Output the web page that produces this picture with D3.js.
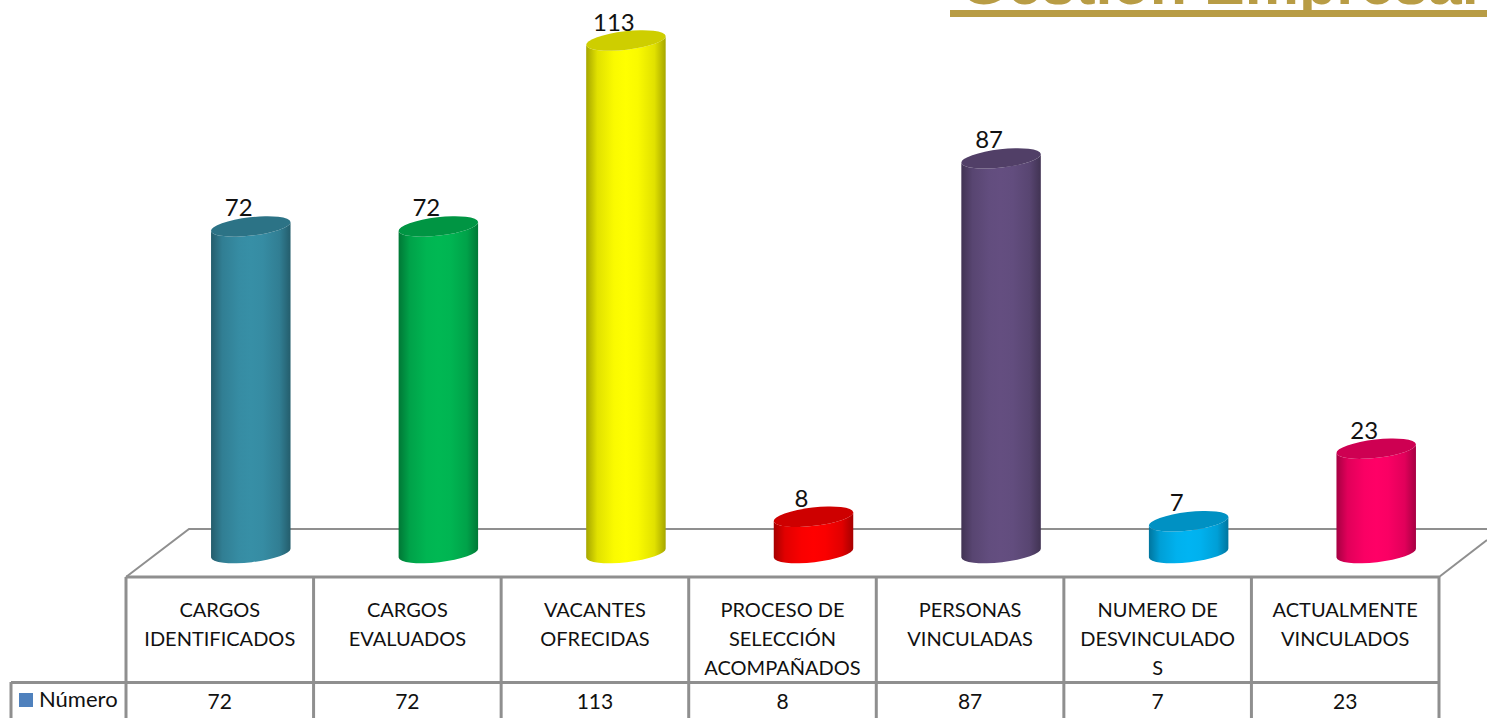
<!DOCTYPE html>
<html><head><meta charset="utf-8">
<script src="https://cdn.jsdelivr.net/npm/d3@7"></script>
<style>html,body{margin:0;padding:0;background:#fff;overflow:hidden}svg{display:block}text{font-family:Lato,"Open Sans",sans-serif;fill:#111}</style>
</head><body><svg id="c" width="1487" height="718"></svg>
<script>
const categories=[["CARGOS","IDENTIFICADOS"],["CARGOS","EVALUADOS"],["VACANTES","OFRECIDAS"],["PROCESO DE","SELECCIÓN","ACOMPAÑADOS"],["PERSONAS","VINCULADAS"],["NUMERO DE","DESVINCULADO","S"],["ACTUALMENTE","VINCULADOS"]];
const values=[72,72,113,8,87,7,23];
const colors=["#378fa6","#00b853","#ffff00","#ff0000","#644e80","#00b4f2","#ff0066"];
const legendLabel="Número", legendColor="#4f81bd", titleText="Gestión Empresar", titleColor="#b89c45";
const svg=d3.select("#c");
const y=d3.scaleLinear().domain([0,113]).range([553,40.5]);
const x=d3.scaleBand().domain(d3.range(values.length)).range([126,1439]);
const grid="#8f8f8f";
const rx=40,ry=9.2,rot=-6.5,rad=rot*Math.PI/180;
const dx=rx*Math.cos(rad),dy=rx*Math.sin(rad);
const defs=svg.append("defs");
colors.forEach((c,i)=>{
  const dark=d3.color(c).darker(1.2).formatHex();
  const g=defs.append("linearGradient").attr("id","g"+i);
  [[0,dark],[.14,d3.color(c).darker(.35).formatHex()],[.35,d3.color(c).darker(.05).formatHex()],[.5,c],[.65,d3.color(c).darker(.05).formatHex()],[.86,d3.color(c).darker(.35).formatHex()],[1,dark]].forEach(s=>g.append("stop").attr("offset",s[0]).attr("stop-color",s[1]));
});
svg.append("text").attr("x",960).attr("y",4).attr("font-size",61).attr("font-weight",700)
  .style("font-family","'Liberation Sans',sans-serif").style("fill",titleColor).text(titleText);
svg.append("rect").attr("x",950).attr("y",10).attr("width",537).attr("height",7).attr("fill",titleColor);
const floor=svg.append("g").attr("fill","none").attr("stroke",grid).attr("stroke-width",2);
floor.append("path").attr("d","M126,577L189,529H1487");
floor.append("path").attr("d","M1439,577L1487,540");
const bars=svg.selectAll("g.bar").data(values).join("g").attr("class","bar");
const cx=(d,i)=>x(i)+x.bandwidth()/2+31;
bars.append("path").attr("fill",(d,i)=>`url(#g${i})`).attr("d",(d,i)=>{
  const c=cx(d,i),t=y(d),b=y(0);
  return `M${c-dx},${t-dy}L${c-dx},${b-dy}A${rx},${ry} ${rot} 0 0 ${c+dx},${b+dy}L${c+dx},${t+dy}A${rx},${ry} ${rot} 0 1 ${c-dx},${t-dy}Z`;
});
bars.append("ellipse").attr("rx",rx).attr("ry",ry)
  .attr("transform",(d,i)=>`translate(${cx(d,i)},${y(d)}) rotate(${rot})`)
  .attr("fill",(d,i)=>d3.color(colors[i]).darker(.6).formatHex());
bars.append("text").attr("x",(d,i)=>cx(d,i)-12).attr("y",d=>y(d)-10).attr("text-anchor","middle").attr("font-size",24).text(d=>d);
const tbl=svg.append("g").attr("fill","none").attr("stroke",grid).attr("stroke-width",3);
tbl.append("path").attr("d",`M126,577H1439M11,682.5H1439`);
tbl.selectAll("line.v").data(d3.range(values.length+1)).join("line").attr("class","v")
  .attr("x1",i=>i<values.length?x(i):1439).attr("x2",i=>i<values.length?x(i):1439).attr("y1",577).attr("y2",718);
tbl.append("line").attr("x1",11).attr("x2",11).attr("y1",682).attr("y2",718);
categories.forEach((lines,i)=>{
  svg.append("text").attr("text-anchor","middle").attr("font-size",20)
   .selectAll("tspan").data(lines).join("tspan").attr("x",x(i)+x.bandwidth()/2).attr("y",(l,j)=>617+j*29).text(l=>l);
});
svg.selectAll("text.v").data(values).join("text").attr("class","v").attr("text-anchor","middle").attr("font-size",21)
  .attr("x",(d,i)=>x(i)+x.bandwidth()/2).attr("y",709).text(d=>d);
svg.append("rect").attr("x",19).attr("y",693).attr("width",14).attr("height",14).attr("fill",legendColor);
svg.append("text").attr("x",39).attr("y",707).attr("font-size",22).text(legendLabel);
</script></body></html>
